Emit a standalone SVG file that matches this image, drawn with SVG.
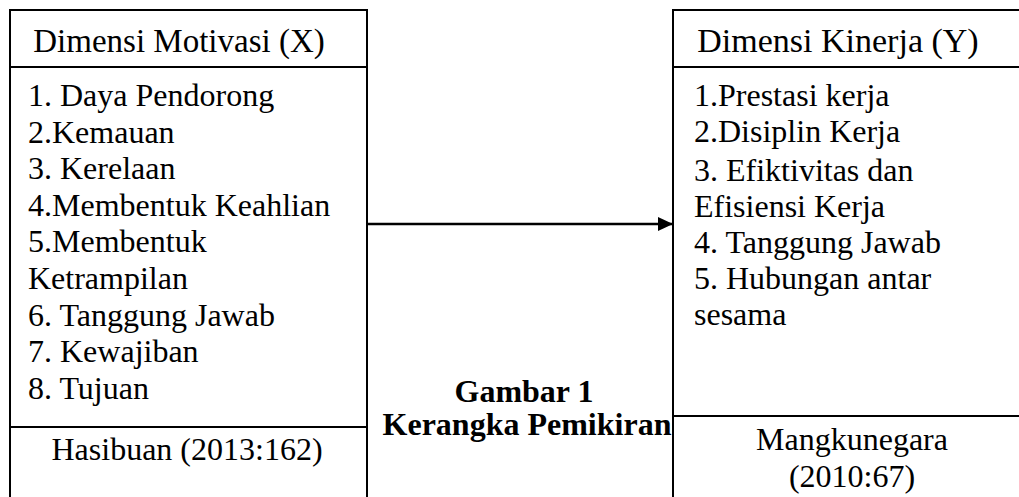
<svg xmlns="http://www.w3.org/2000/svg" width="1019" height="497" viewBox="0 0 1019 497">
<style>
.box{fill:none;stroke:#000;stroke-width:2}
.t{font-family:"Liberation Serif","Times New Roman",serif;font-size:32px;fill:#000}
.h{font-size:33px}
.h2{font-size:34px}
.c{text-anchor:middle}
.b{font-weight:bold;font-size:32px}
</style>
<defs>
<marker id="ah" markerWidth="16" markerHeight="14" refX="15" refY="7" orient="auto" markerUnits="userSpaceOnUse">
<path d="M0,0 L15,7 L0,14 Z" fill="#000"/>
</marker>
</defs>
<rect width="1019" height="497" fill="#fff"/>
<g id="node-motivasi">
<rect class="box" x="10" y="10" width="357" height="500"/>
<line class="box" x1="10" y1="67" x2="367" y2="67"/>
<line class="box" x1="10" y1="427" x2="367" y2="427"/>
<text class="t h c" x="179" y="52">Dimensi Motivasi (X)</text>
<text class="t" x="28" y="106">1. Daya Pendorong</text>
<text class="t" x="28" y="143">2.Kemauan</text>
<text class="t" x="28" y="179">3. Kerelaan</text>
<text class="t" x="28" y="216">4.Membentuk Keahlian</text>
<text class="t" x="28" y="252">5.Membentuk</text>
<text class="t" x="28" y="289">Ketrampilan</text>
<text class="t" x="28" y="326">6. Tanggung Jawab</text>
<text class="t" x="28" y="362">7. Kewajiban</text>
<text class="t" x="28" y="399">8. Tujuan</text>
<text class="t c" x="187" y="460">Hasibuan (2013:162)</text>
</g>
<g id="node-kinerja">
<rect class="box" x="673" y="10" width="360" height="500"/>
<line class="box" x1="673" y1="67" x2="1019" y2="67"/>
<line class="box" x1="673" y1="416" x2="1019" y2="416"/>
<text class="t h2 c" x="838" y="52">Dimensi Kinerja (Y)</text>
<text class="t" x="694" y="106">1.Prestasi kerja</text>
<text class="t" x="694" y="142">2.Disiplin Kerja</text>
<text class="t" x="694" y="181">3. Efiktivitas dan</text>
<text class="t" x="694" y="217">Efisiensi Kerja</text>
<text class="t" x="694" y="253">4. Tanggung Jawab</text>
<text class="t" x="694" y="289">5. Hubungan antar</text>
<text class="t" x="694" y="325">sesama</text>
<text class="t c" x="852" y="450">Mangkunegara</text>
<text class="t c" x="852" y="487">(2010:67)</text>
</g>
<g id="caption">
<text class="t c b" x="524" y="402">Gambar 1</text>
<text class="t c b" x="527" y="435">Kerangka Pemikiran</text>
</g>
<g id="connectors">
<line x1="367" y1="224" x2="673" y2="224" stroke="#000" stroke-width="2.5" marker-end="url(#ah)"/>
</g>
</svg>
